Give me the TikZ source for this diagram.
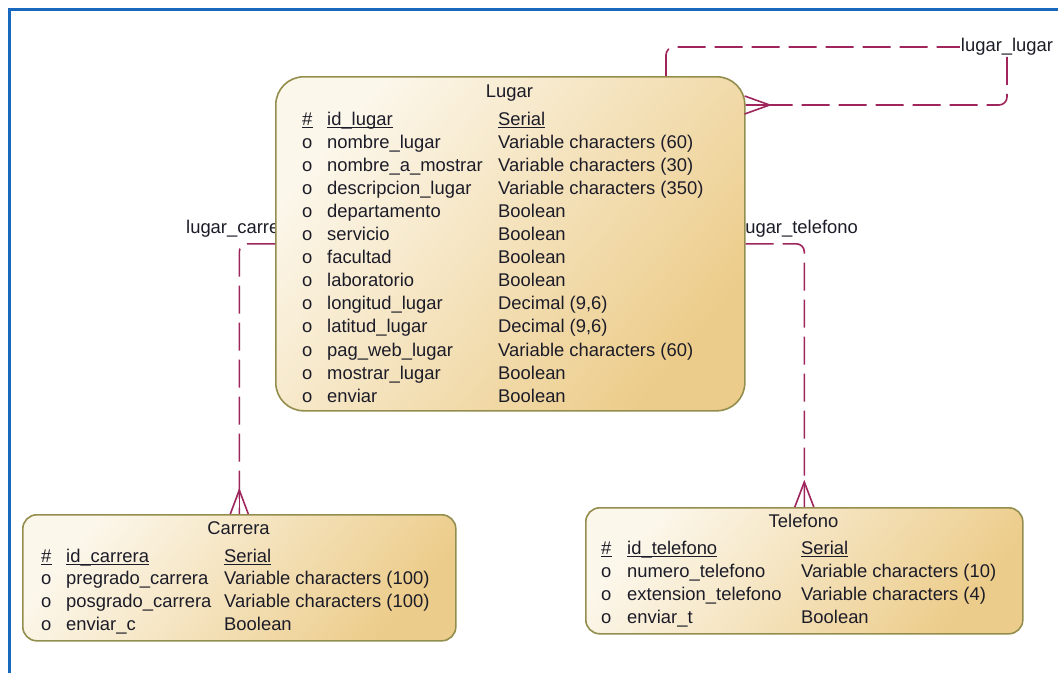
\documentclass[tikz,border=0pt]{standalone}
\usepackage{fontspec}
\setmainfont{Liberation Sans}
\usetikzlibrary{calc}

\definecolor{relc}{RGB}{158,38,92}
\definecolor{frameblue}{RGB}{24,104,190}
\definecolor{boxedge}{RGB}{148,142,78}
\definecolor{filllight}{RGB}{252,247,235}
\definecolor{filldark}{RGB}{236,204,138}
\definecolor{ink}{RGB}{28,28,40}

\newcommand\pkline[1]{%
  \draw[ink, line width=1pt] ($(#1.base west)+(0,2.6)$) -- ($(#1.base east)+(0,2.6)$);}

\begin{document}
\begin{tikzpicture}[x=1pt, y=-1pt,
  entity/.style={draw=boxedge, line width=1.6pt, rounded corners=#1,
    top color=filllight, bottom color=filldark, shading angle=50,
    inner sep=0pt, anchor=north west},
  cell/.style={inner sep=0pt, anchor=base west, text=ink,
    font=\fontsize{18.4}{22}\selectfont},
  title/.style={cell, anchor=base},
  rlabel/.style={cell},
  rel/.style={draw=relc, line width=1.6pt, dash pattern=on 28pt off 9pt,
    rounded corners=8pt},
  foot/.style={draw=relc, line width=1.6pt, solid}]

% page and frame
\path[use as bounding box] (0,0) rectangle (1058,673);
\fill[white] (0,0) rectangle (1058,673);
\draw[frameblue, line width=3pt] (9.5,673) -- (9.5,9.5) -- (1058,9.5);

% relationship names that sit partly behind the Lugar table
\node[rlabel] (lcLabel) at (186,233) {lugar\_carrera};
\node[rlabel] (ltLabel) at (741,233) {lugar\_telefono};

% tables
\node[entity=28pt, minimum width=469pt, minimum height=334pt] (Lugar) at (275,76) {};
\node[entity=14pt, minimum width=433pt, minimum height=126pt] (Carrera) at (22,514) {};
\node[entity=14pt, minimum width=437pt, minimum height=126pt] (Telefono) at (585,507) {};

% Lugar attributes
\begin{scope}[shift={(Lugar.north west)}]
  \node[title] (Lugar-title) at (234.5,21) {Lugar};
  \node[cell] (Lugar-m0) at (27,49) {\#};
  \node[cell] (Lugar-n0) at (52,49) {id\_lugar};
  \node[cell] (Lugar-t0) at (223,49) {Serial};
  \foreach \n/\t [count=\i] in {
      nombre\_lugar/{Variable characters (60)},
      nombre\_a\_mostrar/{Variable characters (30)},
      descripcion\_lugar/{Variable characters (350)},
      departamento/Boolean,
      servicio/Boolean,
      facultad/Boolean,
      laboratorio/Boolean,
      longitud\_lugar/{Decimal (9,6)},
      latitud\_lugar/{Decimal (9,6)},
      pag\_web\_lugar/{Variable characters (60)},
      mostrar\_lugar/Boolean,
      enviar/Boolean} {
    \node[cell] (Lugar-m\i) at (27,49+23.1*\i) {o};
    \node[cell] (Lugar-n\i) at (52,49+23.1*\i) {\n};
    \node[cell] (Lugar-t\i) at (223,49+23.1*\i) {\t};
  }
\end{scope}
\pkline{Lugar-m0}\pkline{Lugar-n0}\pkline{Lugar-t0}

% Carrera attributes
\begin{scope}[shift={(Carrera.north west)}]
  \node[title] (Carrera-title) at (216.5,20) {Carrera};
  \node[cell] (Carrera-m0) at (19,48) {\#};
  \node[cell] (Carrera-n0) at (44,48) {id\_carrera};
  \node[cell] (Carrera-t0) at (202,48) {Serial};
  \foreach \n/\t [count=\i] in {
      pregrado\_carrera/{Variable characters (100)},
      posgrado\_carrera/{Variable characters (100)},
      enviar\_c/Boolean} {
    \node[cell] (Carrera-m\i) at (19,48+22.8*\i) {o};
    \node[cell] (Carrera-n\i) at (44,48+22.8*\i) {\n};
    \node[cell] (Carrera-t\i) at (202,48+22.8*\i) {\t};
  }
\end{scope}
\pkline{Carrera-m0}\pkline{Carrera-n0}\pkline{Carrera-t0}

% Telefono attributes
\begin{scope}[shift={(Telefono.north west)}]
  \node[title] (Telefono-title) at (218.5,20) {Telefono};
  \node[cell] (Telefono-m0) at (16,47) {\#};
  \node[cell] (Telefono-n0) at (42,47) {id\_telefono};
  \node[cell] (Telefono-t0) at (216,47) {Serial};
  \foreach \n/\t [count=\i] in {
      numero\_telefono/{Variable characters (10)},
      extension\_telefono/{Variable characters (4)},
      enviar\_t/Boolean} {
    \node[cell] (Telefono-m\i) at (16,47+23*\i) {o};
    \node[cell] (Telefono-n\i) at (42,47+23*\i) {\n};
    \node[cell] (Telefono-t\i) at (216,47+23*\i) {\t};
  }
\end{scope}
\pkline{Telefono-m0}\pkline{Telefono-n0}\pkline{Telefono-t0}

% lugar_carrera
\draw[rel] (Lugar.west) -| (Carrera.north);
\draw[foot] ($(Carrera.north)+(-9,0)$) -- ($(Carrera.north)+(0,-24)$) -- ($(Carrera.north)+(9,0)$);
\draw[foot] ($(Carrera.north)+(0,-24)$) -- (Carrera.north);

% lugar_telefono
\draw[rel] (Lugar.east) -| (Telefono.north);
\draw[foot] ($(Telefono.north)+(-9.5,0)$) -- ($(Telefono.north)+(0,-25)$) -- ($(Telefono.north)+(9.5,0)$);
\draw[foot] ($(Telefono.north)+(0,-25)$) -- (Telefono.north);

% lugar_lugar (recursive)
\node[cell, anchor=center, inner sep=1pt] (llLabel) at (1007,47) {lugar\_lugar};
\coordinate (loopTop) at ($(Lugar.north west)+(391,0)$);
\coordinate (loopEnd) at ($(Lugar.north east)+(0,29)$);
\draw[rel] (loopTop) |- (llLabel.west);
\draw[rel] (llLabel.south) |- (loopEnd);
\draw[foot] ($(loopEnd)+(-1,-9)$) -- ($(loopEnd)+(24,0)$) -- ($(loopEnd)+(-1,9)$);
\draw[foot] ($(loopEnd)+(24,0)$) -- (loopEnd);

\end{tikzpicture}
\end{document}
